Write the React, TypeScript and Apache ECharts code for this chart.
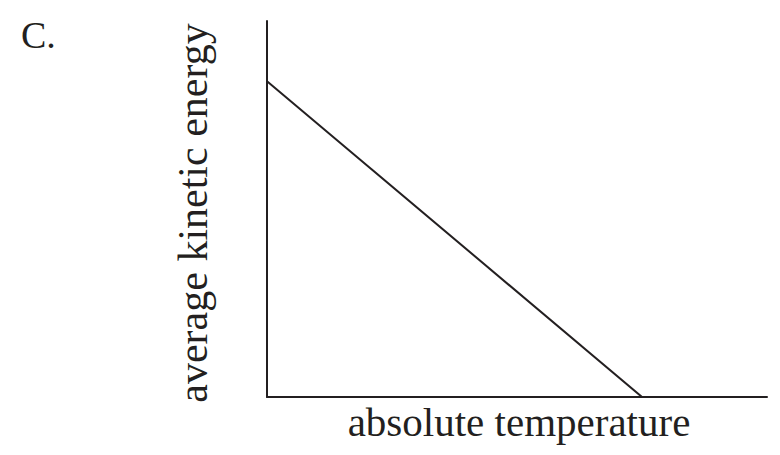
import React, { useEffect, useRef } from "react";
import * as echarts from "echarts";

const xValues: number[] = [0, 75];
const yValues: number[] = [84, 0];
const xTitle = "absolute temperature";
const yTitle = "average kinetic energy";
const panelLabel = "C.";

const INK = "#231f20";
const FONT = "'Liberation Serif', 'Times New Roman', serif";

export default function App() {
  const ref = useRef<HTMLDivElement>(null);
  useEffect(() => {
    if (!ref.current) return;
    const chart = echarts.init(ref.current, null, { renderer: "svg" });
    chart.setOption({
      animation: false,
      backgroundColor: "#ffffff",
      grid: { left: 267, top: 21, right: 13, bottom: 58, containLabel: false },
      xAxis: {
        type: "value",
        min: 0,
        max: 100,
        axisLine: { show: true, onZero: false, lineStyle: { color: INK, width: 2 } },
        axisTick: { show: false },
        axisLabel: { show: false },
        splitLine: { show: false },
      },
      yAxis: {
        type: "value",
        min: 0,
        max: 100,
        axisLine: { show: true, onZero: false, lineStyle: { color: INK, width: 2 } },
        axisTick: { show: false },
        axisLabel: { show: false },
        splitLine: { show: false },
      },
      graphic: [
        {
          type: "text",
          x: 21,
          y: 35,
          style: {
            text: panelLabel,
            fill: INK,
            font: `38px ${FONT}`,
            align: "left",
            verticalAlign: "middle",
          },
        },
        {
          type: "text",
          x: 519,
          y: 422,
          style: {
            text: xTitle,
            fill: INK,
            font: `41px ${FONT}`,
            align: "center",
            verticalAlign: "middle",
          },
        },
        {
          type: "text",
          x: 193,
          y: 213,
          rotation: Math.PI / 2,
          style: {
            text: yTitle,
            fill: INK,
            font: `42px ${FONT}`,
            align: "center",
            verticalAlign: "middle",
          },
        },
      ],
      series: [
        {
          type: "line",
          data: xValues.map((x, i) => [x, yValues[i]]),
          symbol: "none",
          lineStyle: { color: INK, width: 2 },
        },
      ],
    });
    return () => chart.dispose();
  }, []);
  return <div ref={ref} style={{ width: 780, height: 455, position: "absolute", left: 0, top: 0 }} />;
}
